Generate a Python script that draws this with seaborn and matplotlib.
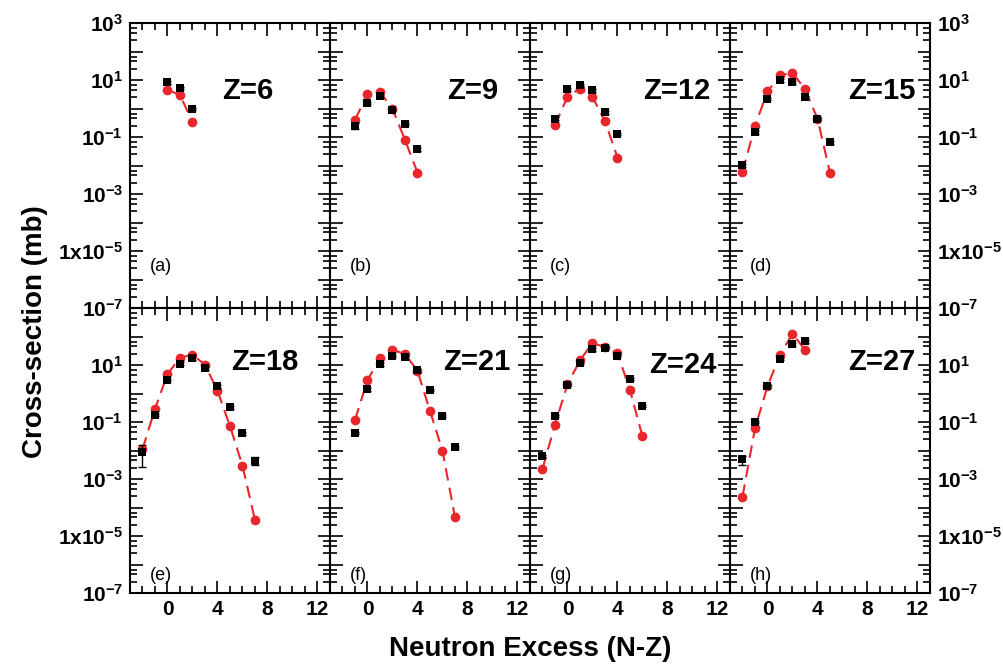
import numpy as np
import pandas as pd
import matplotlib
matplotlib.use("Agg")
import matplotlib.pyplot as plt
from matplotlib.ticker import LogLocator, FuncFormatter, MultipleLocator, NullFormatter
import seaborn as sns

# ---- data: cross-sections (mb) versus neutron excess N-Z ----
z_values = [6, 9, 12, 15, 18, 21, 24, 27]
panel_tags = ["(a)", "(b)", "(c)", "(d)", "(e)", "(f)", "(g)", "(h)"]

exp_nz = {
    6: [0, 1, 2],
    9: [-1, 0, 1, 2, 3, 4],
    12: [-1, 0, 1, 2, 3, 4],
    15: [-2, -1, 0, 1, 2, 3, 4, 5],
    18: [-2, -1, 0, 1, 2, 3, 4, 5, 6, 7],
    21: [-1, 0, 1, 2, 3, 4, 5, 6, 7],
    24: [-2, -1, 0, 1, 2, 3, 4, 5, 6],
    27: [-2, -1, 0, 1, 2, 3],
}
exp_sigma = {
    6: [8.3, 5.2, 0.96],
    9: [0.245, 1.6, 2.75, 0.9, 0.29, 0.037],
    12: [0.44, 4.7, 6.7, 4.3, 0.74, 0.128],
    15: [0.0102, 0.145, 2.2, 9.8, 8.3, 2.5, 0.44, 0.065],
    18: [0.0091, 0.18, 2.97, 11.2, 17.0, 7.6, 1.78, 0.33, 0.040, 0.0043],
    21: [0.042, 1.4, 10.5, 21.0, 18.6, 6.5, 1.36, 0.162, 0.013],
    24: [0.0062, 0.162, 2.0, 12.0, 35.5, 40.0, 21.0, 3.2, 0.37],
    27: [0.005, 0.10, 1.8, 16.0, 53.0, 68.0],
}
# lower / upper error bar ends where they stand out from the marker
exp_err_lo = {18: {-2: 0.0026, 7: 0.0031}, 27: {-2: 0.0031}, 9: {-1: 0.19}}
exp_err_hi = {18: {-2: 0.015, 7: 0.0057}, 27: {-2: 0.0066}, 9: {-1: 0.30}}

calc_nz = {
    6: [0, 1, 2],
    9: [-1, 0, 1, 2, 3, 4],
    12: [-1, 0, 1, 2, 3, 4],
    15: [-2, -1, 0, 1, 2, 3, 4, 5],
    18: [-2, -1, 0, 1, 2, 3, 4, 5, 6, 7],
    21: [-1, 0, 1, 2, 3, 4, 5, 6, 7],
    24: [-2, -1, 0, 1, 2, 3, 4, 5, 6],
    27: [-2, -1, 0, 1, 2, 3],
}
calc_sigma = {
    6: [4.5, 2.97, 0.34],
    9: [0.40, 3.2, 3.8, 0.96, 0.079, 0.0056],
    12: [0.26, 2.6, 5.0, 2.5, 0.36, 0.019],
    15: [0.006, 0.245, 4.0, 14.6, 18.0, 4.8, 0.44, 0.0055],
    18: [0.011, 0.29, 4.8, 18.0, 23.0, 10.2, 1.25, 0.072, 0.0029, 3.6e-5],
    21: [0.117, 2.97, 17.0, 34.0, 24.5, 6.2, 0.245, 0.0098, 4.5e-5],
    24: [0.0023, 0.081, 2.1, 14.6, 59.0, 42.0, 25.7, 1.3, 0.031],
    27: [0.00024, 0.060, 1.8, 23.0, 125.0, 34.0],
}

x_ticks = [0, 4, 8, 12]

# ---- style ----
sns.set_style("ticks")
plt.rcParams["font.family"] = ["Liberation Sans", "DejaVu Sans"]
plt.rcParams["font.weight"] = "bold"
plt.rcParams["mathtext.fontset"] = "custom"
plt.rcParams["mathtext.rm"] = "Liberation Sans:bold"
plt.rcParams["mathtext.bf"] = "Liberation Sans:bold"
plt.rcParams["mathtext.it"] = "Liberation Sans:bold"
plt.rcParams["mathtext.default"] = "bf"
for key in ["text.color", "axes.labelcolor", "xtick.color", "ytick.color", "axes.edgecolor"]:
    plt.rcParams[key] = "black"

RED = "#e8262b"

fig, axes = plt.subplots(2, 4, figsize=(10.04, 6.64), dpi=100)
fig.subplots_adjust(left=130 / 1004, right=930 / 1004, top=1 - 23 / 664,
                    bottom=1 - 593 / 664, hspace=0, wspace=0)


def log_label(row):
    def fmt(v, pos):
        e = int(round(np.log10(v)))
        if e % 2 == 0:
            return ""
        if row == 1 and e == 3:
            return ""
        if e == -5:
            return r"$1\mathrm{x}10^{-5}$"
        return r"$10^{%d}$" % e
    return fmt


label_pos = {
    6: (0.59, 0.76), 9: (0.715, 0.76), 12: (0.735, 0.76), 15: (0.76, 0.76),
    18: (0.675, 0.81), 21: (0.735, 0.81), 24: (0.765, 0.80), 27: (0.76, 0.81),
}

for i, z in enumerate(z_values):
    row, col = divmod(i, 4)
    ax = axes[row, col]

    calc = pd.DataFrame({"nz": calc_nz[z], "sigma": calc_sigma[z]})
    sns.lineplot(data=calc, x="nz", y="sigma", ax=ax, color=RED, lw=1.5,
                 dashes=False, marker="o", markersize=7, markeredgewidth=0,
                 zorder=2)
    ax.lines[-1].set_dashes((6, 3.5))

    exp = pd.DataFrame({"nz": exp_nz[z], "sigma": exp_sigma[z]})
    lo = [s - exp_err_lo.get(z, {}).get(n, s * 0.9) for n, s in zip(exp["nz"], exp["sigma"])]
    hi = [exp_err_hi.get(z, {}).get(n, s * 1.1) - s for n, s in zip(exp["nz"], exp["sigma"])]
    ax.errorbar(exp["nz"], exp["sigma"], yerr=[lo, hi], fmt="none",
                ecolor="black", elinewidth=1.0, capsize=3, capthick=1.0, zorder=3)
    sns.scatterplot(data=exp, x="nz", y="sigma", ax=ax, color="black",
                    marker="s", s=30, linewidth=0, zorder=4)

    ax.set_yscale("log")
    ax.set_xlim(-3, 13)
    ax.set_ylim(1e-7, 1e3)
    ax.xaxis.set_major_locator(MultipleLocator(4))
    ax.xaxis.set_minor_locator(MultipleLocator(1))
    ax.yaxis.set_major_locator(LogLocator(base=10, numticks=20))
    ax.yaxis.set_minor_locator(LogLocator(base=10, subs=(2.5, 4.5, 6.5), numticks=20))
    ax.yaxis.set_major_formatter(FuncFormatter(log_label(row)))
    ax.yaxis.set_minor_formatter(NullFormatter())
    ax.set_xticks(x_ticks)
    ax.tick_params(which="both", direction="in", top=True, right=True,
                   labelsize=15, width=1.2, pad=5, color="black", labelcolor="black")
    ax.tick_params(which="major", length=9)
    ax.tick_params(which="minor", length=5)
    ax.tick_params(axis="y", which="both", labelleft=(col == 0), labelright=(col == 3))
    ax.tick_params(axis="x", labelbottom=(row == 1))
    for sp in ax.spines.values():
        sp.set_linewidth(1.5)
        sp.set_color("black")
    ax.set_xlabel("")
    ax.set_ylabel("")

    lx, ly = label_pos[z]
    ax.text(lx, ly, f"Z={z}", transform=ax.transAxes, ha="center", va="center",
            fontsize=21, fontweight="bold", color="black")
    ty = 0.144 if row == 0 else 0.063
    ax.text(0.1, ty, panel_tags[i], transform=ax.transAxes, ha="left", va="center",
            fontsize=13, fontweight="normal", color="black")

fig.text(0.035, 0.5, "Cross-section (mb)", rotation=90, ha="center", va="center",
         fontsize=20, fontweight="bold", color="black")
fig.text(0.528, 0.022, "Neutron Excess (N-Z)", ha="center", va="center",
         fontsize=20, fontweight="bold", color="black")

fig.savefig("out.png", dpi=100)
